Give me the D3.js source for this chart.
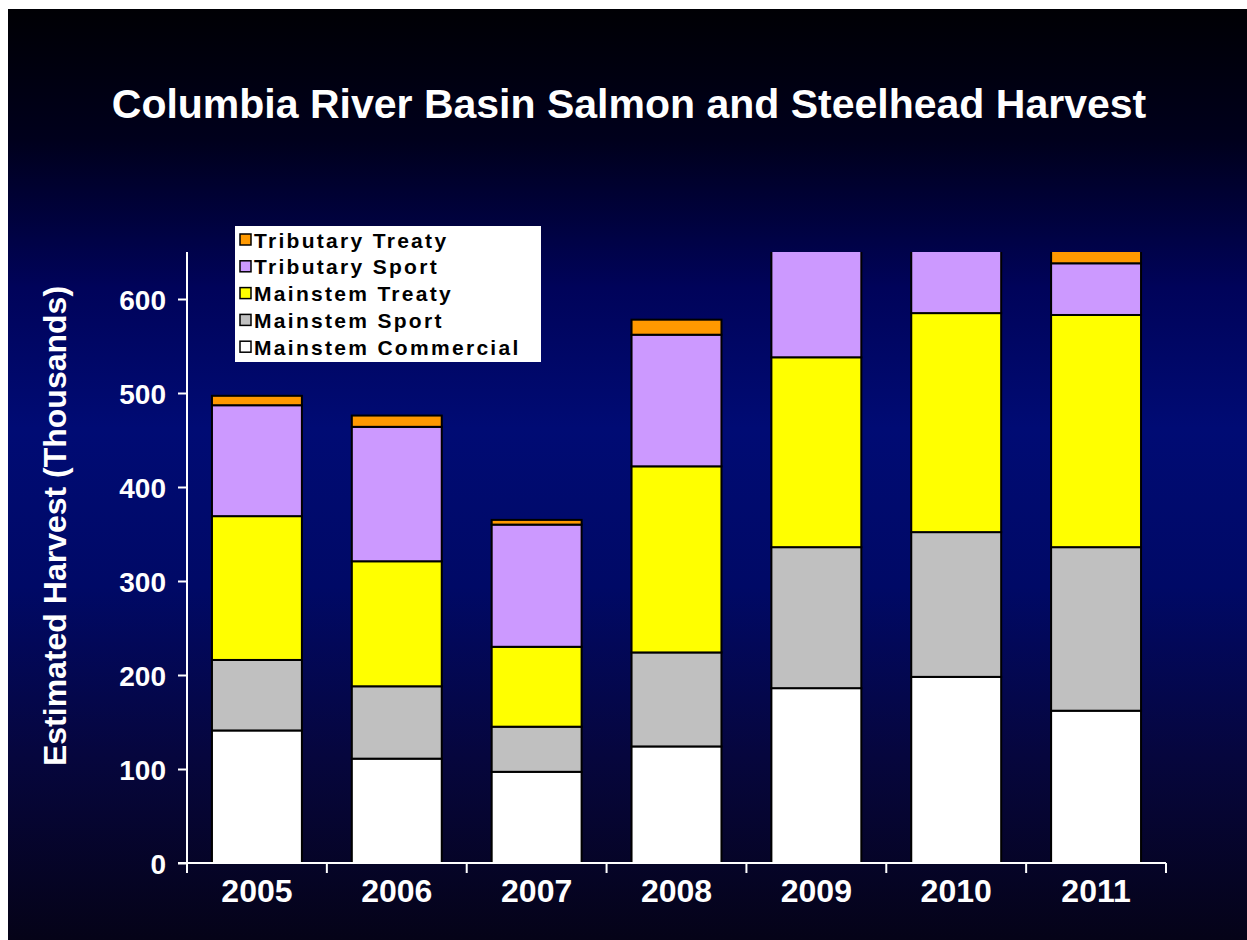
<!DOCTYPE html>
<html>
<head>
<meta charset="utf-8">
<script src="https://cdn.jsdelivr.net/npm/d3@7"></script>
<style>
  body { margin: 0; background: #fff; }
  svg { display: block; }
  text { font-family: "Liberation Sans", Arial, sans-serif; font-weight: bold; fill: #fff; }
</style>
</head>
<body>
<div id="chart"></div>
<script>
var years = ['2005', '2006', '2007', '2008', '2009', '2010', '2011'];
var seriesNames = ['Mainstem Commercial', 'Mainstem Sport', 'Mainstem Treaty', 'Tributary Sport', 'Tributary Treaty'];
var seriesColors = ['#ffffff', '#c0c0c0', '#ffff00', '#cc99ff', '#ff9900'];

// thousands of fish
var mainstemCommercial = [141, 111, 97, 124, 186, 198, 162];
var mainstemSport      = [75, 77, 48, 100, 150, 154, 174];
var mainstemTreaty     = [153, 133, 85, 198, 202, 233, 247];
var tributarySport     = [118, 143, 130, 140, 125, 80, 55];
var tributaryTreaty    = [10, 12, 5, 16, 14, 12, 14];

var yTicks = [0, 100, 200, 300, 400, 500, 600];

var width = 1247;
var height = 940;

var rows = years.map(function(y, i) {
  return {
    year: y,
    'Mainstem Commercial': mainstemCommercial[i],
    'Mainstem Sport': mainstemSport[i],
    'Mainstem Treaty': mainstemTreaty[i],
    'Tributary Sport': tributarySport[i],
    'Tributary Treaty': tributaryTreaty[i]
  };
});

var x = d3.scaleBand().domain(years).range([187, 1166]).paddingInner(0.357).paddingOuter(0.1785);
var y = d3.scaleLinear().domain([0, 650]).range([863, 252]);
var color = d3.scaleOrdinal().domain(seriesNames).range(seriesColors);

var svg = d3.select('#chart')
    .append('svg')
    .attr('width', width)
    .attr('height', height);

var defs = svg.append('defs');
var grad = defs.append('linearGradient')
    .attr('id', 'bg')
    .attr('x1', 0).attr('y1', 0).attr('x2', 0).attr('y2', 1);
[[0, '#000004'], [0.14, '#00001c'], [0.3, '#00035a'], [0.45, '#000b74'], [0.62, '#000966'],
 [0.8, '#06063e'], [1, '#050318']].forEach(function(s) {
  grad.append('stop').attr('offset', s[0]).attr('stop-color', s[1]);
});
defs.append('clipPath').attr('id', 'plotclip')
  .append('rect')
    .attr('x', 180).attr('y', y(650))
    .attr('width', 1000).attr('height', y(0) - y(650) + 2);

svg.append('rect')
    .attr('width', width).attr('height', height).attr('fill', '#fff');
svg.append('rect')
    .attr('x', 8).attr('y', 9)
    .attr('width', width - 8).attr('height', height - 9)
    .attr('fill', 'url(#bg)');

// title
svg.append('text')
    .attr('x', 629)
    .attr('y', 118)
    .attr('text-anchor', 'middle')
    .style('font-size', '41px')
    .text('Columbia River Basin Salmon and Steelhead Harvest');

// stacked bars
var stack = d3.stack().keys(seriesNames)(rows);

svg.append('g')
    .attr('clip-path', 'url(#plotclip)')
  .selectAll('g')
  .data(stack)
  .enter().append('g')
    .attr('fill', function(d) { return color(d.key); })
  .selectAll('rect')
  .data(function(d) { return d; })
  .enter().append('rect')
    .attr('x', function(d) { return x(d.data.year); })
    .attr('y', function(d) { return y(d[1]); })
    .attr('width', x.bandwidth())
    .attr('height', function(d) { return y(d[0]) - y(d[1]); })
    .attr('stroke', '#000')
    .attr('stroke-width', 2);

// y axis
var yAxis = svg.append('g')
    .attr('transform', 'translate(187,0)')
    .call(d3.axisLeft(y).tickValues(yTicks).tickSize(9).tickPadding(12).tickFormat(d3.format('d')));
yAxis.select('.domain').attr('stroke', '#fff').attr('stroke-width', 2).attr('d', 'M0,' + y(650) + 'V' + y(0));
yAxis.selectAll('.tick line').attr('stroke', '#fff').attr('stroke-width', 2);
yAxis.selectAll('.tick text')
    .attr('fill', '#fff')
    .style('font-size', '28px')
    .attr('dy', '0.36em');

// x axis
var xAxis = svg.append('g')
    .attr('transform', 'translate(0,' + y(0) + ')')
    .call(d3.axisBottom(x).tickSize(0).tickPadding(15));
xAxis.select('.domain').attr('stroke', '#fff').attr('stroke-width', 2).attr('d', 'M178,0H1166');
xAxis.selectAll('.tick text')
    .attr('fill', '#fff')
    .style('font-size', '32px')
    .attr('dy', '0.75em');
var bounds = years.map(function(d) { return x(d) - x.step() * x.paddingInner() / 2; });
bounds.push(1166);
xAxis.selectAll('.sep')
  .data(bounds)
  .enter().append('line')
    .attr('class', 'sep')
    .attr('x1', function(d) { return d; })
    .attr('x2', function(d) { return d; })
    .attr('y1', 0)
    .attr('y2', 10)
    .attr('stroke', '#fff')
    .attr('stroke-width', 2);

// y label
svg.append('text')
    .attr('transform', 'translate(66,526) rotate(-90)')
    .attr('text-anchor', 'middle')
    .style('font-size', '32px')
    .text('Estimated Harvest (Thousands)');

// legend
var legend = svg.append('g').attr('transform', 'translate(235,226)');
legend.append('rect')
    .attr('width', 306)
    .attr('height', 136)
    .attr('fill', '#fff');
var legendOrder = seriesNames.slice().reverse();
var item = legend.selectAll('.item')
  .data(legendOrder)
  .enter().append('g')
    .attr('class', 'item')
    .attr('transform', function(d, i) { return 'translate(0,' + (14 + i * 26.8) + ')'; });
item.append('rect')
    .attr('x', 5)
    .attr('y', -6)
    .attr('width', 11)
    .attr('height', 11)
    .attr('fill', function(d) { return color(d); })
    .attr('stroke', '#000')
    .attr('stroke-width', 1.5);
item.append('text')
    .attr('x', 19)
    .attr('dy', '0.36em')
    .style('font-size', '21px')
    .style('letter-spacing', '2.3px')
    .style('fill', '#000')
    .text(function(d) { return d; });
</script>
</body>
</html>
